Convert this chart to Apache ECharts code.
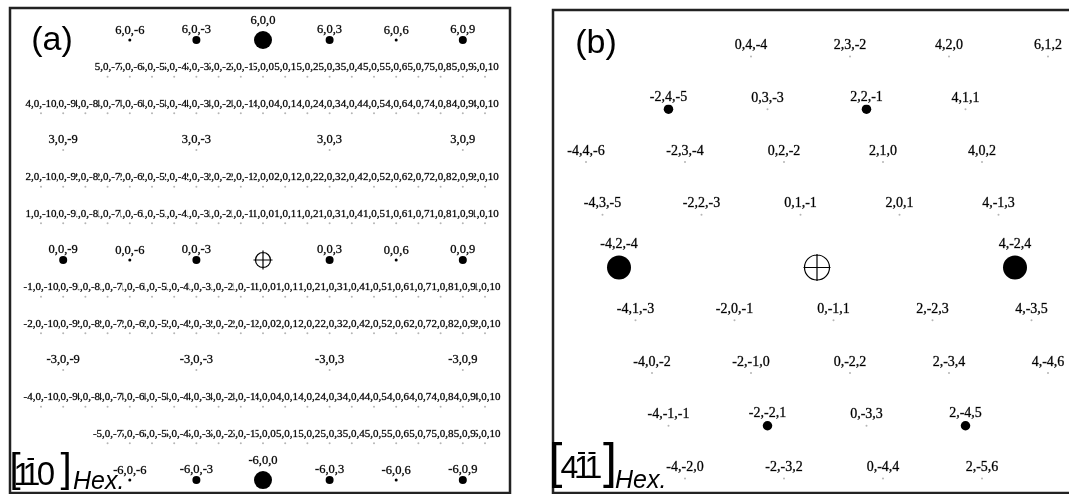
<!DOCTYPE html>
<html><head><meta charset="utf-8">
<script src="https://cdn.jsdelivr.net/npm/echarts@6/dist/echarts.min.js"></script>
<style>html,body{margin:0;padding:0;background:#fff}#c{width:1069px;height:494px}</style>
</head><body><div id="c"></div><script>
// ---------- Panel (a): [1 -1 0] zone, spots (h,0,l); x = l, y = h ----------
const A_STRONG_ROWS_H = [6, -6];
const A_STRONG_ROWS_L = [-6, -3, 0, 3, 6, 9];
const A_STRONG_ROWS_I = ['small', 'medium', 'large', 'medium', 'small', 'medium'];
const A_ZERO_ROW_L = [-9, -6, -3, 3, 6, 9];
const A_ZERO_ROW_I = ['medium', 'small', 'medium', 'medium', 'small', 'medium'];
const A_THIRD_ROWS_H = [3, -3];
const A_THIRD_ROWS_L = [-9, -3, 3, 9];
const A_FIFTH_ROWS_H = [5, -5];
const A_FIFTH_ROWS_L = [-7, -6, -5, -4, -3, -2, -1, 0, 1, 2, 3, 4, 5, 6, 7, 8, 9, 10];
const A_DENSE_ROWS_H = [4, 2, 1, -1, -2, -4];
const A_DENSE_ROWS_L = [-10, -9, -8, -7, -6, -5, -4, -3, -2, -1, 0, 1, 2, 3, 4, 5, 6, 7, 8, 9, 10];

// ---------- Panel (b): [4 -1 -1] zone, spots (h,k,l) ----------
const B_H = [0, 2, 4, 6, -2, 0, 2, 4, -4, -2, 0, 2, 4, -4, -2, 0, 2, 4, -4, 4, -4, -2, 0, 2, 4, -4, -2, 0, 2, 4, -4, -2, 0, 2, -4, -2, 0, 2];
const B_K = [4, 3, 2, 1, 4, 3, 2, 1, 4, 3, 2, 1, 0, 3, 2, 1, 0, -1, 2, -2, 1, 0, -1, -2, -3, 0, -1, -2, -3, -4, -1, -2, -3, -4, -2, -3, -4, -5];
const B_L = [-4, -2, 0, 2, -5, -3, -1, 1, -6, -4, -2, 0, 2, -5, -3, -1, 1, 3, -4, 4, -3, -1, 1, 3, 5, -2, 0, 2, 4, 6, -1, 1, 3, 5, 0, 2, 4, 6];
const B_I = ['tiny', 'tiny', 'tiny', 'tiny', 'medium', 'tiny', 'medium', 'tiny', 'tiny', 'tiny', 'tiny', 'tiny', 'tiny', 'tiny', 'tiny', 'tiny', 'tiny', 'tiny', 'large', 'large', 'tiny', 'tiny', 'tiny', 'tiny', 'tiny', 'tiny', 'tiny', 'tiny', 'tiny', 'tiny', 'tiny', 'medium', 'tiny', 'medium', 'tiny', 'tiny', 'tiny', 'tiny'];

const CLS = {
  a: { large: { size: 18, dist: 4 }, medium: { size: 8, dist: 0 }, small: { size: 3, dist: 1 }, tiny: { size: 2, dist: 2.5 } },
  b: { large: { size: 24, dist: 3.5 }, medium: { size: 9.5, dist: 0 }, tiny: { size: 2, dist: 2.5 } }
};
const TINY_COLOR = '#b5b5b5';

function item(panel, x, y, name, cls) {
  const c = CLS[panel][cls];
  return {
    name: name, value: [x, y], symbolSize: c.size,
    itemStyle: { color: cls === 'tiny' ? TINY_COLOR : '#000', opacity: 1 },
    label: { distance: c.dist }
  };
}
function lbl(size) {
  return { show: true, position: 'top', formatter: '{b}', fontFamily: '"Liberation Serif", serif',
    fontSize: size, lineHeight: size + 1, color: '#000', backgroundColor: '#fff', padding: 0,
    textBorderColor: 'rgba(0,0,0,0.6)', textBorderWidth: 0.45 };
}

// panel a data
const aDense = [];
A_DENSE_ROWS_H.forEach(h => A_DENSE_ROWS_L.forEach(l => aDense.push(item('a', l, h, h + ',0,' + l, 'tiny'))));
A_FIFTH_ROWS_H.forEach(h => A_FIFTH_ROWS_L.forEach(l => aDense.push(item('a', l, h, h + ',0,' + l, 'tiny'))));
aDense.sort((p, q) => q.value[0] - p.value[0]); // leftmost labels drawn last (on top)
const aThird = [];
A_THIRD_ROWS_H.forEach(h => A_THIRD_ROWS_L.forEach(l => aThird.push(item('a', l, h, h + ',0,' + l, 'tiny'))));
const aStrong = [];
A_STRONG_ROWS_H.forEach(h => A_STRONG_ROWS_L.forEach((l, i) => aStrong.push(item('a', l, h, h + ',0,' + l, A_STRONG_ROWS_I[i]))));
A_ZERO_ROW_L.forEach((l, i) => aStrong.push(item('a', l, 0, '0,0,' + l, A_ZERO_ROW_I[i])));

// panel b data: projection onto zone plane (x = 2.5h - k, y = h/2 + k)
const bData = B_H.map((h, i) => item('b', 2.5 * h - B_K[i], 0.5 * h + B_K[i], h + ',' + B_K[i] + ',' + B_L[i], B_I[i]));

const CROSS_A = 'path://M0,-9.5L0,9.5M-9.5,0L9.5,0M7.5,0A7.5,7.5,0,1,1,-7.5,0A7.5,7.5,0,1,1,7.5,0';
const CROSS_B = 'path://M0,-13.5L0,13.5M-13.5,0L13.5,0M12.5,0A12.5,12.5,0,1,1,-12.5,0A12.5,12.5,0,1,1,12.5,0';

const hiddenAxis = (gi, min, max) => ({ gridIndex: gi, type: 'value', min: min, max: max, show: false });

function txt(s, x, y, size, opts) {
  opts = opts || {};
  return { type: 'text', x: x, y: y, z: 100, style: {
    text: s, font: (opts.italic ? 'italic ' : '') + size + 'px "Liberation Sans", Arial, sans-serif',
    fill: '#000', textAlign: opts.align || 'center', textVerticalAlign: 'middle',
    align: opts.align || 'center', verticalAlign: 'middle' } };
}
function bar(x1, x2, y) {
  return { type: 'line', z: 100, shape: { x1: x1, y1: y, x2: x2, y2: y }, style: { stroke: '#000', lineWidth: 2 } };
}

const chart = echarts.init(document.getElementById('c'), null, { renderer: 'canvas' });
chart.setOption({
  animation: false,
  backgroundColor: '#fff',
  grid: [
    { left: 10, top: 8, width: 500, height: 485, show: true, borderColor: '#222', borderWidth: 2.5, backgroundColor: '#fff', outerBoundsMode: 'none', containLabel: false },
    { left: 553, top: 10, width: 536, height: 483, show: true, borderColor: '#222', borderWidth: 2.5, backgroundColor: '#fff', outerBoundsMode: 'none', containLabel: false }
  ],
  xAxis: [hiddenAxis(0, -11.396, 11.126), hiddenAxis(1, -16.0, 16.485)],
  yAxis: [hiddenAxis(0, -6.354, 6.873), hiddenAxis(1, -4.275, 4.881)],
  series: [
    { type: 'scatter', xAxisIndex: 0, yAxisIndex: 0, data: aDense, label: lbl(11), clip: false },
    { type: 'scatter', xAxisIndex: 0, yAxisIndex: 0, data: aThird, label: lbl(12.5), clip: false },
    { type: 'scatter', xAxisIndex: 0, yAxisIndex: 0, data: aStrong, label: lbl(12.5), clip: false },
    { type: 'scatter', xAxisIndex: 0, yAxisIndex: 0, data: [[0, 0]], symbol: CROSS_A, symbolSize: 19,
      itemStyle: { color: 'transparent', borderColor: '#000', borderWidth: 1.2, opacity: 1 } },
    { type: 'scatter', xAxisIndex: 1, yAxisIndex: 1, data: bData, label: lbl(14), clip: false },
    { type: 'scatter', xAxisIndex: 1, yAxisIndex: 1, data: [[0, 0]], symbol: CROSS_B, symbolSize: 27,
      itemStyle: { color: 'transparent', borderColor: '#000', borderWidth: 1.2, opacity: 1 } }
  ],
  graphic: [
    txt('(a)', 52, 41, 34),
    txt('(b)', 596, 44, 34),
    // [1 -1 0]Hex.
    txt('[', 15, 470.6, 40), txt('1', 22.5, 476, 32), txt('1', 31.5, 476, 32), txt('0', 46, 476, 33), txt(']', 66, 470.6, 40),
    bar(27.5, 34, 459),
    txt('Hex.', 73, 482, 25, { italic: true, align: 'left' }),
    // [4 -1 -1]Hex.
    txt('[', 555.5, 464, 50), txt('4', 569.5, 469, 32), txt('1', 583, 469, 32), txt('1', 593.5, 469, 32), txt(']', 610, 464, 50),
    bar(578, 585, 453), bar(588.5, 595.5, 453),
    txt('Hex.', 615, 481, 25, { italic: true, align: 'left' })
  ]
});
</script></body></html>
